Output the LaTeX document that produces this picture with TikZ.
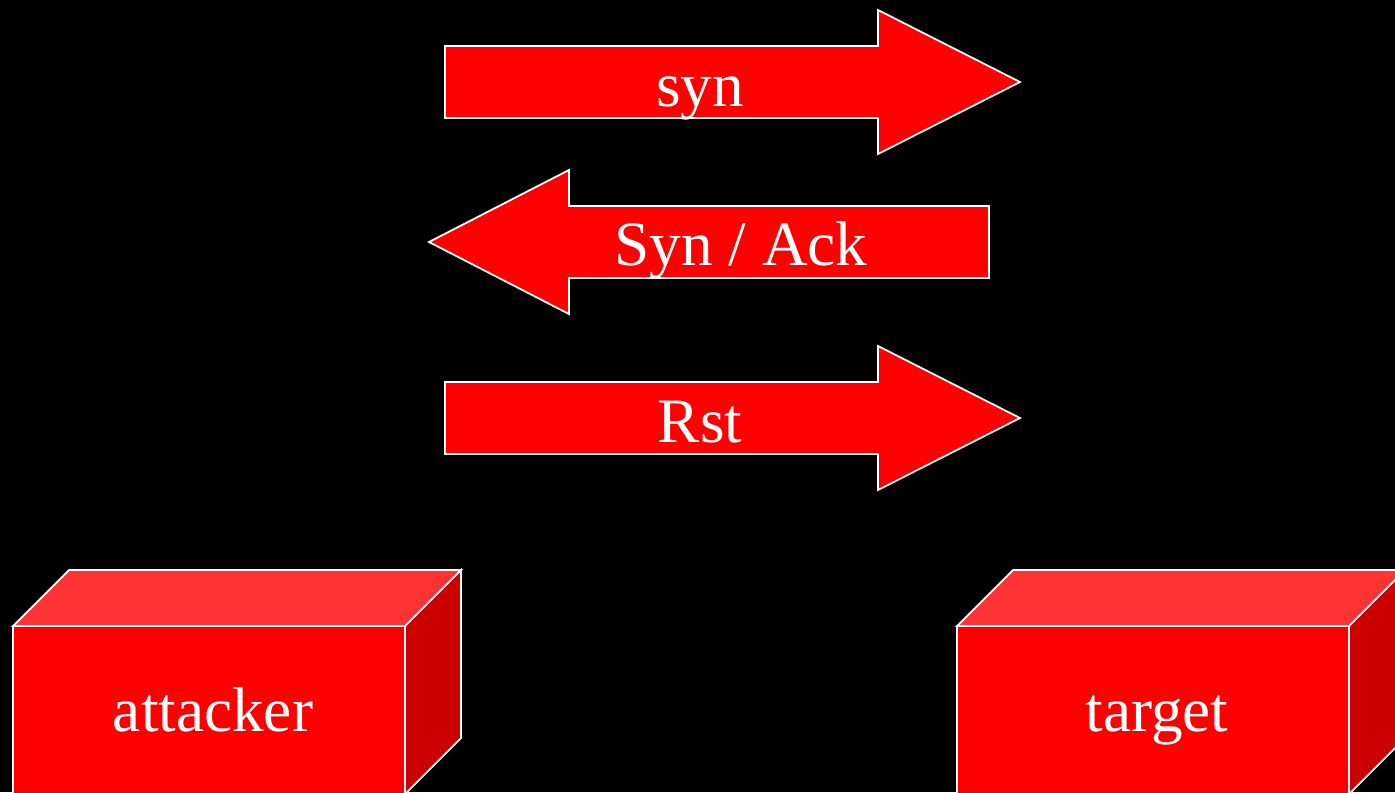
\documentclass[tikz,border=0pt]{standalone}
\usepackage{fontspec}
\setmainfont{Liberation Serif}
\definecolor{boxfront}{HTML}{FF0000}
\definecolor{boxtop}{HTML}{FF3333}
\definecolor{boxside}{HTML}{CC0000}
\tikzset{
  shape outline/.style={draw=white, line width=1pt, line join=miter},
  flow arrow/.style={shape outline, fill=boxfront},
  lbl/.style={text=white, font=\fontsize{36}{43}\selectfont, inner sep=0pt, anchor=base},
}
\begin{document}
\begin{tikzpicture}[x=0.02cm, y=-0.02cm]
  % canvas
  \fill[black] (0,0) rectangle (1395,792);
  \useasboundingbox (0,0) rectangle (1395,792);
  \clip (0,0) rectangle (1395,792);

  % syn: attacker -> target
  \draw[flow arrow] (445,46) -- (878,46) -- (878,10) -- (1020,82) -- (878,154) -- (878,118) -- (445,118) -- cycle;
  \node[lbl] (syn) at (700,106) {syn};

  % Syn / Ack: target -> attacker
  \draw[flow arrow] (989,206) -- (569,206) -- (569,170) -- (429,242) -- (569,314) -- (569,278) -- (989,278) -- cycle;
  \node[lbl] (synack) at (741,265) {Syn / Ack};

  % Rst: attacker -> target
  \draw[flow arrow] (445,382) -- (878,382) -- (878,346) -- (1020,418) -- (878,490) -- (878,454) -- (445,454) -- cycle;
  \node[lbl] (rst) at (700,442) {Rst};

  % 3D boxes: front face, top face, right side
  \foreach \bx/\name/\txt in {13/attacker/attacker, 957/target/target} {
    \fill[boxtop, shape outline] (\bx,626) -- (\bx+56,570) -- (\bx+448,570) -- (\bx+392,626) -- cycle;
    \fill[boxside, shape outline] (\bx+392,626) -- (\bx+448,570) -- (\bx+448,738) -- (\bx+392,794) -- cycle;
    \fill[boxfront, shape outline] (\bx,626) rectangle (\bx+392,794);
    \node[lbl] (\name) at (\bx+200,731) {\txt};
  }
\end{tikzpicture}
\end{document}
